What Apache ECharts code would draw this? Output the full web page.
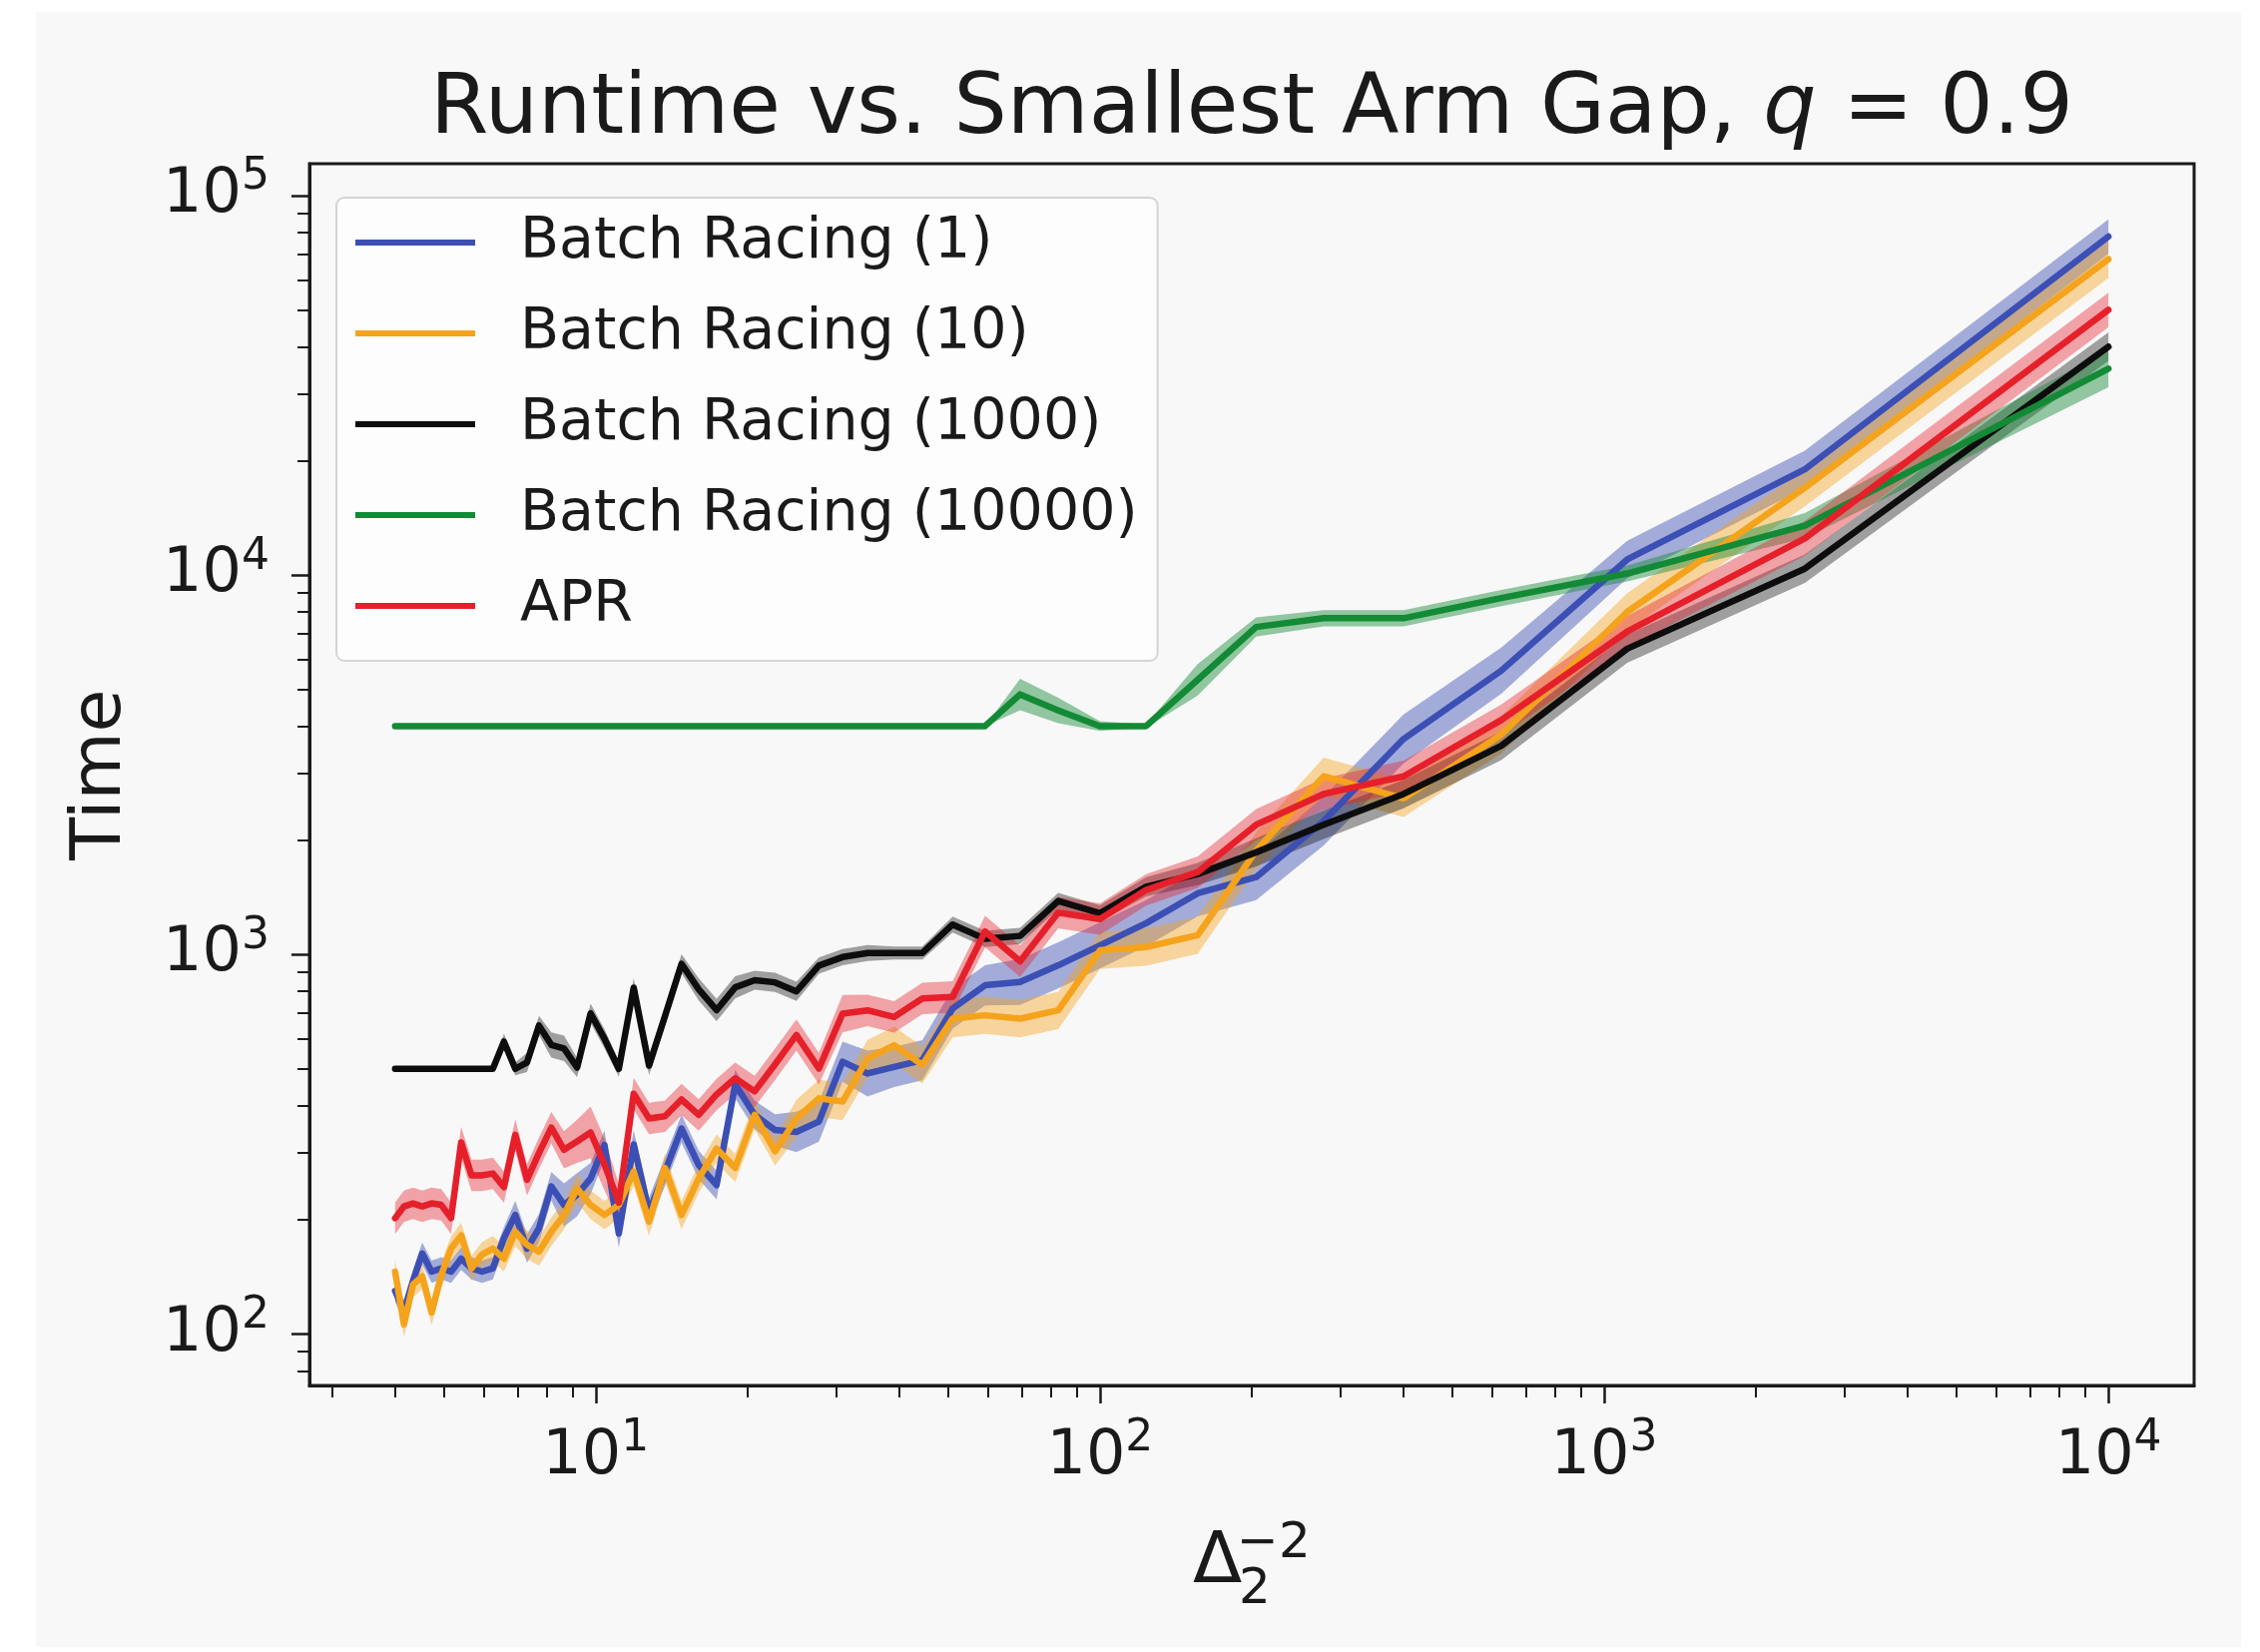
<!DOCTYPE html>
<html>
<head>
<meta charset="utf-8">
<script src="https://cdn.jsdelivr.net/npm/echarts@6/dist/echarts.min.js"></script>
<style>
  html, body { margin: 0; padding: 0; background: #ffffff; }
  #chart { width: 2264px; height: 1655px; }
</style>
</head>
<body>
<div id="chart"></div>
<script>
// Inverse squared smallest arm gap (x axis values)
const gapInvSq = [4, 4.165, 4.34, 4.527, 4.726, 4.938, 5.165, 5.408, 5.669, 5.949,
  6.25, 6.575, 6.925, 7.305, 7.716, 8.163, 8.651, 9.183, 9.766, 10.406,
  11.111, 11.891, 12.755, 13.717, 14.793, 16, 17.361, 18.904, 20.661, 22.676,
  25, 27.701, 30.864, 34.602, 39.063, 44.444, 51.02, 59.172, 69.444, 82.645,
  100, 123.457, 156.25, 204.082, 277.778, 400, 625, 1111.111, 2500, 10000];

// Mean runtimes
const racing1 = [130, 115, 138, 163, 146, 149, 146, 158, 149, 146,
  149, 179, 206, 168, 190, 245, 219, 233, 257, 315,
  184, 316, 210, 268, 348, 279, 247, 455, 378, 345,
  341, 363, 522, 486, 506, 527, 721, 830, 847, 937,
  1057, 1210, 1450, 1600, 2250, 3700, 5600, 11000, 19000, 78000];
const racing10 = [146, 106, 135, 142, 114, 143, 168, 182, 149, 162,
  168, 158, 186, 172, 165, 186, 206, 242, 219, 206,
  219, 268, 198, 274, 206, 257, 308, 274, 378, 303,
  370, 418, 410, 532, 577, 512, 678, 692, 678, 713,
  1026, 1047, 1125, 1880, 2950, 2580, 3800, 8000, 17000, 68000];
const racing1000 = [500, 500, 500, 500, 500, 500, 500, 500, 500, 500,
  500, 590, 500, 520, 650, 578, 566, 504, 700, 600,
  500, 818, 510, 688, 945, 810, 714, 820, 856, 845,
  800, 935, 985, 1010, 1010, 1010, 1200, 1100, 1120, 1385,
  1285, 1510, 1630, 1860, 2200, 2650, 3550, 6400, 10400, 40000];
const racing10000 = [4000, 4000, 4000, 4000, 4000, 4000, 4000, 4000, 4000, 4000,
  4000, 4000, 4000, 4000, 4000, 4000, 4000, 4000, 4000, 4000,
  4000, 4000, 4000, 4000, 4000, 4000, 4000, 4000, 4000, 4000,
  4000, 4000, 4000, 4000, 4000, 4000, 4000, 4000, 4850, 4400,
  4000, 4000, 5300, 7300, 7700, 7700, 8700, 10100, 13500, 35000];
const apr = [202, 217, 221, 217, 221, 219, 202, 320, 262, 262,
  265, 244, 335, 255, 300, 350, 306, 322, 340, 280,
  222, 430, 370, 375, 415, 378, 428, 472, 436, 514,
  614, 501, 699, 713, 685, 766, 773, 1150, 960, 1290,
  1240, 1480, 1650, 2200, 2650, 2950, 4150, 7100, 12500, 50000];

// Multiplicative half-width of the shaded spread around each mean
const racing1Spread = [1.07, 1.07, 1.07, 1.07, 1.07, 1.07, 1.07, 1.07, 1.07, 1.07,
  1.07, 1.07, 1.09, 1.09, 1.09, 1.09, 1.14, 1.14, 1.1, 1.09,
  1.09, 1.09, 1.09, 1.09, 1.09, 1.09, 1.09, 1.09, 1.09, 1.1,
  1.13, 1.13, 1.13, 1.15, 1.13, 1.13, 1.13, 1.13, 1.15, 1.15,
  1.15, 1.15, 1.15, 1.15, 1.16, 1.16, 1.15, 1.12, 1.12, 1.11];
const racing10Spread = [1.08, 1.08, 1.08, 1.08, 1.08, 1.08, 1.08, 1.08, 1.08, 1.08,
  1.08, 1.08, 1.09, 1.09, 1.09, 1.09, 1.09, 1.09, 1.09, 1.09,
  1.09, 1.09, 1.09, 1.09, 1.09, 1.09, 1.09, 1.09, 1.09, 1.09,
  1.12, 1.12, 1.12, 1.12, 1.12, 1.12, 1.12, 1.12, 1.12, 1.12,
  1.12, 1.12, 1.12, 1.12, 1.12, 1.12, 1.12, 1.12, 1.12, 1.12];
const racing1000Spread = [1, 1, 1, 1, 1, 1, 1, 1, 1, 1,
  1, 1.05, 1.04, 1.06, 1.06, 1.08, 1.08, 1.06, 1.06, 1.06,
  1.05, 1.06, 1.06, 1.06, 1.06, 1.07, 1.07, 1.07, 1.06, 1.06,
  1.06, 1.05, 1.05, 1.05, 1.04, 1.04, 1.05, 1.05, 1.05, 1.05,
  1.05, 1.06, 1.07, 1.09, 1.09, 1.09, 1.09, 1.09, 1.09, 1.09];
const racing10000Spread = [1, 1, 1, 1, 1, 1, 1, 1, 1, 1,
  1, 1, 1, 1, 1, 1, 1, 1, 1, 1,
  1, 1, 1, 1, 1, 1, 1, 1, 1, 1,
  1, 1, 1, 1, 1, 1, 1, 1, 1.1, 1.08,
  1.03, 1.01, 1.1, 1.06, 1.05, 1.05, 1.05, 1.05, 1.08, 1.12];
const aprSpread = [1.1, 1.1, 1.1, 1.1, 1.1, 1.1, 1.1, 1.1, 1.1, 1.1,
  1.1, 1.1, 1.1, 1.1, 1.1, 1.1, 1.12, 1.14, 1.17, 1.17,
  1.12, 1.1, 1.1, 1.1, 1.1, 1.1, 1.1, 1.1, 1.1, 1.1,
  1.1, 1.1, 1.12, 1.1, 1.1, 1.1, 1.1, 1.1, 1.1, 1.1,
  1.1, 1.1, 1.1, 1.1, 1.1, 1.1, 1.1, 1.1, 1.11, 1.11];

const seriesNames = ['Batch Racing (1)', 'Batch Racing (10)', 'Batch Racing (1000)', 'Batch Racing (10000)', 'APR'];
const seriesValues = [racing1, racing10, racing1000, racing10000, apr];
const seriesSpreads = [racing1Spread, racing10Spread, racing1000Spread, racing10000Spread, aprSpread];
const lineColors = ['#3b4fb4', '#f5a31c', '#0d0d0d', '#138a35', '#e5202a'];
const bandColors = ['rgba(59,79,180,0.45)', 'rgba(245,163,28,0.42)', 'rgba(13,13,13,0.38)',
  'rgba(19,138,53,0.45)', 'rgba(229,32,42,0.4)'];

// Axis ticks
const xMajorTicks = [10, 100, 1000, 10000];
const xMinorTicks = [3, 4, 5, 6, 7, 8, 9, 20, 30, 40, 50, 60, 70, 80, 90,
  200, 300, 400, 500, 600, 700, 800, 900, 2000, 3000, 4000, 5000, 6000, 7000, 8000, 9000];
const yMajorTicks = [100, 1000, 10000, 100000];
const yMinorTicks = [80, 90, 200, 300, 400, 500, 600, 700, 800, 900,
  2000, 3000, 4000, 5000, 6000, 7000, 8000, 9000,
  20000, 30000, 40000, 50000, 60000, 70000, 80000, 90000];

const X_MIN = 2.705, X_MAX = 14791;
const Y_MIN = 73.2, Y_MAX = 121400;
const INK = '#1a1a1a';
const FONT = 'DejaVu Sans';

const powerLabel = function (v) {
  const e = Math.round(Math.log10(v));
  return '{b|10}{s|' + e + '}';
};
const powerRich = {
  b: { fontFamily: FONT, fontSize: 62, lineHeight: 80, color: INK },
  s: { fontFamily: FONT, fontSize: 44, lineHeight: 44, verticalAlign: 'top', color: INK }
};

const chart = echarts.init(document.getElementById('chart'), null, { renderer: 'canvas' });

const series = [];
// Shaded spreads, drawn beneath all mean lines
seriesValues.forEach(function (vals, k) {
  const spread = seriesSpreads[k];
  series.push({
    name: seriesNames[k] + ' spread',
    type: 'custom',
    coordinateSystem: 'cartesian2d',
    xAxisIndex: 0,
    yAxisIndex: 0,
    z: 1,
    silent: true,
    data: [[gapInvSq[0], vals[0]]],
    renderItem: function (params, api) {
      const pts = [];
      for (let i = 0; i < gapInvSq.length; i++) {
        pts.push(api.coord([gapInvSq[i], vals[i] * spread[i]]));
      }
      for (let i = gapInvSq.length - 1; i >= 0; i--) {
        pts.push(api.coord([gapInvSq[i], vals[i] / spread[i]]));
      }
      return {
        type: 'polygon',
        shape: { points: pts },
        style: { fill: bandColors[k], stroke: null }
      };
    }
  });
});
// Mean lines
seriesValues.forEach(function (vals, k) {
  series.push({
    name: seriesNames[k],
    type: 'line',
    xAxisIndex: 0,
    yAxisIndex: 0,
    z: 3 + k,
    showSymbol: false,
    symbol: 'none',
    data: gapInvSq.map(function (x, i) { return [x, vals[i]]; }),
    lineStyle: { color: lineColors[k], width: 6.5, join: 'round', cap: 'round' },
    itemStyle: { color: lineColors[k] }
  });
});

const option = {
  animation: false,
  backgroundColor: '#ffffff',
  title: {
    text: '{n|Runtime vs. Smallest Arm Gap, }{i|q}{n| = 0.9}',
    left: 1254,
    top: 68,
    textAlign: 'center',
    padding: 0,
    textStyle: {
      fontWeight: 'normal',
      rich: {
        n: { fontFamily: FONT, fontSize: 84, lineHeight: 86, fontWeight: 'normal', color: INK },
        i: { fontFamily: FONT, fontSize: 84, lineHeight: 86, fontWeight: 'normal', fontStyle: 'italic', color: INK }
      }
    }
  },
  graphic: [
    { type: 'rect', z: -10, silent: true, shape: { x: 36, y: 12, width: 2209, height: 1638 },
      style: { fill: '#f8f8f8' } },
    { type: 'text', x: 1195, y: 1566, silent: true,
      style: { text: 'Δ', font: '72px "DejaVu Sans"', fill: INK, verticalAlign: 'middle', align: 'left' } },
    { type: 'text', x: 1241, y: 1593, silent: true,
      style: { text: '2', font: '50px "DejaVu Sans"', fill: INK, verticalAlign: 'middle', align: 'left' } },
    { type: 'text', x: 1239, y: 1547, silent: true,
      style: { text: '\u22122', font: '50px "DejaVu Sans"', fill: INK, verticalAlign: 'middle', align: 'left' } }
  ],
  legend: {
    data: seriesNames,
    orient: 'vertical',
    left: 337,
    top: 198,
    padding: [12, 20, 22, 19],
    itemGap: 25,
    itemWidth: 120,
    itemHeight: 6,
    icon: 'rect',
    backgroundColor: '#fdfdfd',
    borderColor: '#d4d4d4',
    borderWidth: 2,
    borderRadius: 8,
    textStyle: { fontFamily: FONT, fontSize: 57, lineHeight: 66, color: INK, padding: [0, 0, 0, 40] }
  },
  grid: {
    left: 310, top: 164, right: 66, bottom: 267,
    show: true, borderColor: INK, borderWidth: 3, backgroundColor: 'transparent'
  },
  xAxis: [
    {
      type: 'log', logBase: 10, min: X_MIN, max: X_MAX, position: 'bottom',
      axisLine: { show: true, lineStyle: { color: INK, width: 3 } },
      axisTick: { show: true, inside: false, length: 18, customValues: xMajorTicks,
        lineStyle: { color: INK, width: 2.5 } },
      axisLabel: { show: true, margin: 32, customValues: xMajorTicks, formatter: powerLabel, rich: powerRich },
      splitLine: { show: false },
      minorTick: { show: false }
    },
    {
      type: 'log', logBase: 10, min: X_MIN, max: X_MAX, position: 'bottom',
      axisLine: { show: false },
      axisTick: { show: true, inside: false, length: 12, customValues: xMinorTicks,
        lineStyle: { color: INK, width: 2 } },
      axisLabel: { show: false },
      splitLine: { show: false }
    }
  ],
  yAxis: [
    {
      type: 'log', logBase: 10, min: Y_MIN, max: Y_MAX, position: 'left',
      name: 'Time', nameLocation: 'middle', nameGap: 173,
      nameTextStyle: { fontFamily: FONT, fontSize: 70, lineHeight: 70, color: INK },
      axisLine: { show: true, lineStyle: { color: INK, width: 3 } },
      axisTick: { show: true, inside: false, length: 18, customValues: yMajorTicks,
        lineStyle: { color: INK, width: 2.5 } },
      axisLabel: { show: true, margin: 40, customValues: yMajorTicks, formatter: powerLabel, rich: powerRich },
      splitLine: { show: false },
      minorTick: { show: false }
    },
    {
      type: 'log', logBase: 10, min: Y_MIN, max: Y_MAX, position: 'left',
      axisLine: { show: false },
      axisTick: { show: true, inside: false, length: 12, customValues: yMinorTicks,
        lineStyle: { color: INK, width: 2 } },
      axisLabel: { show: false },
      splitLine: { show: false }
    }
  ],
  series: series
};

chart.setOption(option);
</script>
</body>
</html>
